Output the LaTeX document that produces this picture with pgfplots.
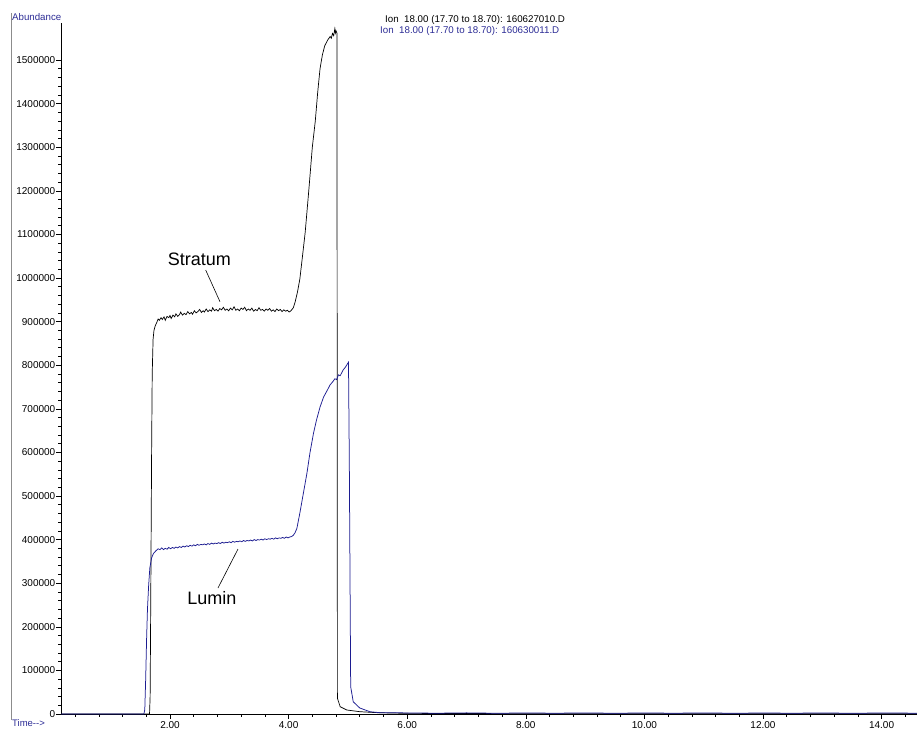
\documentclass[border=0pt]{standalone}
\usepackage{pgfplots}
\pgfplotsset{compat=1.18}
\usepackage{fontspec}
\setmainfont{Liberation Sans}
\definecolor{lumin}{RGB}{28,28,145}
\definecolor{labblue}{RGB}{45,45,150}
\begin{document}
\begin{tikzpicture}
\useasboundingbox (0pt,0pt) rectangle (917pt,730pt);
\draw[gray!90, line width=0.8pt] (11pt,717pt) -- (11pt,10pt);
\node[anchor=west, inner sep=0pt, text=labblue, font=\fontsize{9.7}{10}\selectfont] at (12pt,712.5pt) {Abundance};
\node[anchor=west, inner sep=0pt, font=\fontsize{9.75}{10}\selectfont] at (385pt,710pt) {Ion\ \ 18.00 (17.70 to 18.70): 160627010.D};
\node[anchor=west, inner sep=0pt, text=labblue, font=\fontsize{9.75}{10}\selectfont] at (380pt,699.5pt) {Ion\ \ 18.00 (17.70 to 18.70): 160630011.D};
\node[anchor=north west, inner sep=0pt, text=labblue, font=\fontsize{9.5}{10}\selectfont] at (12pt,10.5pt) {Time-{}-{}>};
\begin{axis}[
  at={(61pt,16pt)}, anchor=south west,
  scale only axis, width=856pt, height=691pt,
  xmin=0.162, xmax=14.597, ymin=0, ymax=1585000,
  axis x line*=bottom, axis y line*=left,
  axis line style={-, line width=0.8pt, black},
  tick align=outside,
  major tick length=5pt, minor tick length=3pt,
  tick style={black, line width=0.6pt},
  xtick={2,4,6,8,10,12,14},
  minor xtick={0.4,0.8,1.2,1.6,2.4,2.8,3.2,3.6,4.4,4.8,5.2,5.6,6.4,6.8,7.2,7.6,8.4,8.8,9.2,9.6,10.4,10.8,11.2,11.6,12.4,12.8,13.2,13.6,14.4},
  ytick={0,100000,...,1500000},
  minor y tick num=4,
  scaled y ticks=false,
  /pgf/number format/assume math mode=true,
  xticklabel style={yshift=-1.5pt, /pgf/number format/.cd, fixed, fixed zerofill, precision=2},
  yticklabel style={/pgf/number format/.cd, fixed, 1000 sep={}},
  every tick label/.append style={font=\fontsize{10}{11}\selectfont, inner sep=0.5pt},
  clip=false,
]
% Stratum (black)
\addplot[black, line width=0.7pt] coordinates {
(0.162,0) (1.60,0) (1.655,0) (1.665,40000) (1.675,250000) (1.69,600000) (1.70,780000) (1.715,860000) (1.73,880000) (1.75,890000) (1.78,899000)
(1.80,906000) (1.82,903000) (1.85,909000) (1.87,905000) (1.90,911000) (1.92,903000) (1.95,912000) (1.98,909000) (2.00,914000) (2.02,907000)
(2.05,915000) (2.08,911000) (2.10,918000) (2.13,912000) (2.16,916000) (2.18,922000) (2.21,915000) (2.24,919000) (2.27,916000) (2.30,923000)
(2.33,918000) (2.36,921000) (2.38,917000) (2.41,925000) (2.44,920000) (2.47,923000) (2.50,928000) (2.53,921000) (2.56,925000) (2.58,922000)
(2.61,929000) (2.64,923000) (2.67,927000) (2.70,924000) (2.72,932000) (2.75,925000) (2.78,928000) (2.81,924000) (2.84,930000) (2.87,927000)
(2.90,933000) (2.93,926000) (2.96,929000) (2.99,925000) (3.02,931000) (3.05,927000) (3.08,934000) (3.11,926000) (3.14,929000) (3.17,925000)
(3.20,931000) (3.23,928000) (3.26,933000) (3.29,925000) (3.32,929000) (3.35,926000) (3.38,931000) (3.41,924000) (3.44,928000) (3.47,925000)
(3.50,932000) (3.53,926000) (3.56,928000) (3.59,924000) (3.62,929000) (3.65,926000) (3.68,930000) (3.71,924000) (3.74,927000) (3.77,923000)
(3.80,929000) (3.83,925000) (3.86,928000) (3.89,923000) (3.92,927000) (3.95,924000) (3.98,926000) (4.01,922000) (4.04,925000)
(4.08,932000) (4.11,945000) (4.15,968000) (4.19,998000) (4.23,1045000) (4.28,1105000) (4.34,1200000) (4.40,1300000) (4.45,1360000)
(4.49,1425000) (4.53,1480000) (4.57,1512000) (4.61,1533000) (4.66,1546000) (4.70,1554000) (4.72,1550000) (4.74,1561000) (4.76,1556000)
(4.78,1572000) (4.79,1562000) (4.80,1567000) (4.815,1562000) (4.82,700000) (4.823,36000) (4.87,16700) (4.98,9200) (5.20,5300) (5.50,3000)
(6.0,1500) (7.0,1000) (8.0,800) (10.0,600) (12.0,500) (14.597,500)
};
% Lumin (blue)
\addplot[lumin, line width=0.75pt] coordinates {
(0.162,0) (1.56,0) (1.575,10000) (1.59,80000) (1.605,170000) (1.62,240000) (1.64,295000) (1.66,335000) (1.69,358000) (1.72,368000)
(1.76,374000) (1.80,379000) (1.83,377000) (1.86,381000) (1.89,377000) (1.92,380000) (1.95,378000) (1.98,382000) (2.01,379000) (2.04,382000)
(2.07,380000) (2.10,383000) (2.13,381000) (2.16,384000) (2.19,382000) (2.22,385000) (2.25,383000) (2.28,386000) (2.31,384000) (2.34,387000)
(2.37,385000) (2.40,388000) (2.43,386000) (2.46,389000) (2.49,387000) (2.52,389000) (2.55,388000) (2.58,390000) (2.61,388000) (2.64,391000)
(2.67,389000) (2.70,392000) (2.73,390000) (2.76,392000) (2.79,391000) (2.82,393000) (2.85,391000) (2.88,394000) (2.91,392000) (2.94,394000)
(2.97,393000) (3.00,395000) (3.03,393000) (3.06,396000) (3.09,394000) (3.12,396000) (3.15,395000) (3.18,397000) (3.21,395000) (3.24,398000)
(3.27,396000) (3.30,398000) (3.33,397000) (3.36,399000) (3.39,397000) (3.42,400000) (3.45,398000) (3.48,400000) (3.51,399000) (3.54,401000)
(3.57,399000) (3.60,402000) (3.63,400000) (3.66,402000) (3.69,401000) (3.72,403000) (3.75,401000) (3.78,404000) (3.81,402000) (3.84,404000)
(3.87,403000) (3.90,405000) (3.93,403000) (3.96,406000) (3.99,404000) (4.02,406000) (4.05,407000) (4.08,410000)
(4.11,416000) (4.14,426000) (4.19,461000) (4.25,507000) (4.31,553000) (4.36,599000) (4.42,644000) (4.47,674000) (4.53,704000) (4.59,727000)
(4.65,742000) (4.70,755000) (4.75,763000) (4.78,769000) (4.81,767000) (4.84,778000) (4.87,776000) (4.92,789000) (4.96,796000) (5.01,807000)
(5.024,576000) (5.047,62600) (5.09,28000) (5.20,13800) (5.37,5300) (5.54,3000) (6.0,2500) (6.5,1800) (7.0,2600) (7.5,1700) (8.0,2400)
(8.5,1800) (9.0,2500) (9.5,1700) (10.0,2400) (10.5,1800) (11.0,2500) (11.5,1700) (12.0,2300) (12.5,1800) (13.0,2400) (13.5,1700) (14.0,2300) (14.597,1900)
};
% annotations
\node[font=\fontsize{18}{20}\selectfont] at (axis cs:2.497,1042400) {Stratum};
\draw[black, line width=0.6pt] (axis cs:2.602,1018300) -- (axis cs:2.843,945600);
\node[font=\fontsize{18}{20}\selectfont] at (axis cs:2.708,266000) {Lumin};
\draw[black, line width=0.6pt] (axis cs:3.147,378400) -- (axis cs:2.809,289000);
\end{axis}
\end{tikzpicture}
\end{document}
